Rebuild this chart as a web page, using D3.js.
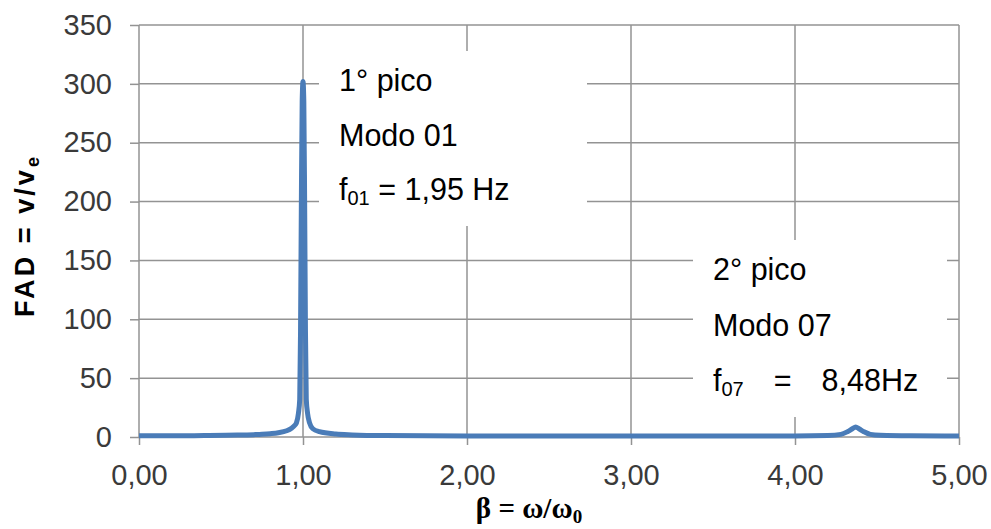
<!DOCTYPE html>
<html>
<head>
<meta charset="utf-8">
<script src="https://cdn.jsdelivr.net/npm/d3@7"></script>
<style>
  html, body { margin: 0; padding: 0; background: #fff; }
  svg { display: block; }
</style>
</head>
<body>
<svg id="chart" width="991" height="529"></svg>
<script>
// Frequency ratio β = ω/ω0 and dynamic amplification factor FAD
const betaValues = [0, 0.2, 0.4, 0.6, 0.7, 0.75, 0.8, 0.85, 0.9, 0.93, 0.95, 0.96, 0.972, 0.98, 0.985, 0.99, 0.995, 1.0,
  1.005, 1.01, 1.015, 1.02, 1.028, 1.04, 1.06, 1.1, 1.2, 1.3, 1.5, 2.0, 3.0, 4.0, 4.2, 4.28, 4.32, 4.35, 4.37,
  4.39, 4.42, 4.46, 4.52, 4.7, 5.0];
const fadValues = [1.0, 1.0, 1.2, 1.6, 2.0, 2.3, 2.8, 3.6, 5.3, 7.5, 10, 12, 20, 32, 90, 200, 285, 302,
  285, 200, 90, 32, 20, 12, 7, 4.5, 2.5, 1.8, 1.2, 0.9, 0.8, 0.9, 1.2, 2.2, 4.5, 7, 8.5,
  7, 4.5, 2.2, 1.4, 1.0, 0.9];

const xTicks = [0, 1, 2, 3, 4, 5];
const xTickLabels = ["0,00", "1,00", "2,00", "3,00", "4,00", "5,00"];
const yTicks = [0, 50, 100, 150, 200, 250, 300, 350];

// Peak notes
const peak1Lines = ["1° pico", "Modo 01"];
const peak1Freq = { sym: "f", sub: "01", rest: " = 1,95 Hz" };
const peak2Lines = ["2° pico", "Modo 07"];
const peak2Freq = { sym: "f", sub: "07", eq: "=", value: "8,48Hz" };

const svg = d3.select("#chart");
const margin = { left: 139, right: 32, top: 25, bottom: 92 };
const W = 991, H = 529;

const x = d3.scaleLinear().domain([0, 5]).range([margin.left, W - margin.right]);
const y = d3.scaleLinear().domain([0, 350]).range([H - margin.bottom, margin.top]);

const gridColor = "#939393";
const sans = "'Liberation Sans', Arial, sans-serif";

// Horizontal grid lines
svg.append("g")
  .selectAll("line")
  .data(yTicks)
  .join("line")
  .attr("x1", x(0)).attr("x2", x(5))
  .attr("y1", d => y(d)).attr("y2", d => y(d))
  .attr("stroke", gridColor).attr("stroke-width", 1.5);

// Vertical grid lines
svg.append("g")
  .selectAll("line")
  .data(xTicks)
  .join("line")
  .attr("x1", d => x(d)).attr("x2", d => x(d))
  .attr("y1", y(0)).attr("y2", y(350))
  .attr("stroke", gridColor).attr("stroke-width", 1.5);

// Axes
const yAxis = svg.append("g")
  .attr("transform", `translate(${x(0)},0)`)
  .call(d3.axisLeft(y).tickValues(yTicks).tickSize(9).tickPadding(18));
const xAxis = svg.append("g")
  .attr("transform", `translate(0,${y(0)})`)
  .call(d3.axisBottom(x).tickValues(xTicks).tickSize(8).tickPadding(19)
    .tickFormat((d, i) => xTickLabels[i]));

[yAxis, xAxis].forEach(g => {
  g.select(".domain").remove();
  g.selectAll(".tick line").attr("stroke", gridColor).attr("stroke-width", 1.5);
  g.selectAll(".tick text")
    .attr("fill", "#3a3a3a")
    .style("font-family", sans)
    .style("font-size", "29px");
});

// Response curve
const pts = betaValues.map((b, i) => [b, fadValues[i]]);
const line = d3.line().x(d => x(d[0])).y(d => y(d[1])).curve(d3.curveMonotoneX);
svg.append("path")
  .datum(pts)
  .attr("d", line)
  .attr("fill", "none")
  .attr("stroke", "#4a7cb8")
  .attr("stroke-width", 5)
  .attr("stroke-linejoin", "round");

// Annotation boxes
function noteBox(x0, y0, w, h) {
  svg.append("rect").attr("x", x0).attr("y", y0).attr("width", w).attr("height", h).attr("fill", "#fff");
}
noteBox(319, 51, 268, 175);
noteBox(693, 240, 254, 177);

const noteFont = 30.5;
function noteText(tx, ty, lines, lineGap) {
  lines.forEach((s, i) => {
    svg.append("text")
      .attr("x", tx).attr("y", ty + i * lineGap)
      .style("font-family", sans).style("font-size", noteFont + "px")
      .attr("fill", "#000")
      .text(s);
  });
}
noteText(339, 91, peak1Lines, 54.5);
const f1 = svg.append("text").attr("x", 339).attr("y", 200)
  .style("font-family", sans).style("font-size", noteFont + "px").attr("fill", "#000");
f1.append("tspan").text(peak1Freq.sym);
f1.append("tspan").attr("dy", 5).style("font-size", "20px").text(peak1Freq.sub);
f1.append("tspan").attr("dy", -5).style("white-space", "pre").text(peak1Freq.rest);

noteText(713, 280, peak2Lines, 55.5);
const f2 = svg.append("text").attr("x", 713).attr("y", 391)
  .style("font-family", sans).style("font-size", noteFont + "px").attr("fill", "#000");
f2.append("tspan").text(peak2Freq.sym);
f2.append("tspan").attr("dy", 5).style("font-size", "20px").text(peak2Freq.sub);
f2.append("tspan").attr("dy", -5).attr("dx", 30).text(peak2Freq.eq);
f2.append("tspan").attr("dx", 30).text(peak2Freq.value);

// Axis titles
const yTitle = svg.append("text")
  .attr("transform", "translate(34,237) rotate(-90)")
  .attr("text-anchor", "middle")
  .style("font-family", sans).style("font-size", "27px").style("font-weight", "bold")
  .attr("fill", "#000")
  .attr("textLength", 160).attr("lengthAdjust", "spacing");
yTitle.append("tspan").text("FAD = v/v");
yTitle.append("tspan").attr("dy", 5).style("font-size", "18px").text("e");

const xTitle = svg.append("text")
  .attr("x", 529).attr("y", 518)
  .attr("text-anchor", "middle")
  .style("font-family", "'Liberation Serif', 'Times New Roman', serif")
  .style("font-size", "29px").style("font-weight", "bold")
  .attr("fill", "#000");
xTitle.append("tspan").text("β = ω/ω");
xTitle.append("tspan").attr("dy", 5).style("font-size", "19px").text("0");
</script>
</body>
</html>
